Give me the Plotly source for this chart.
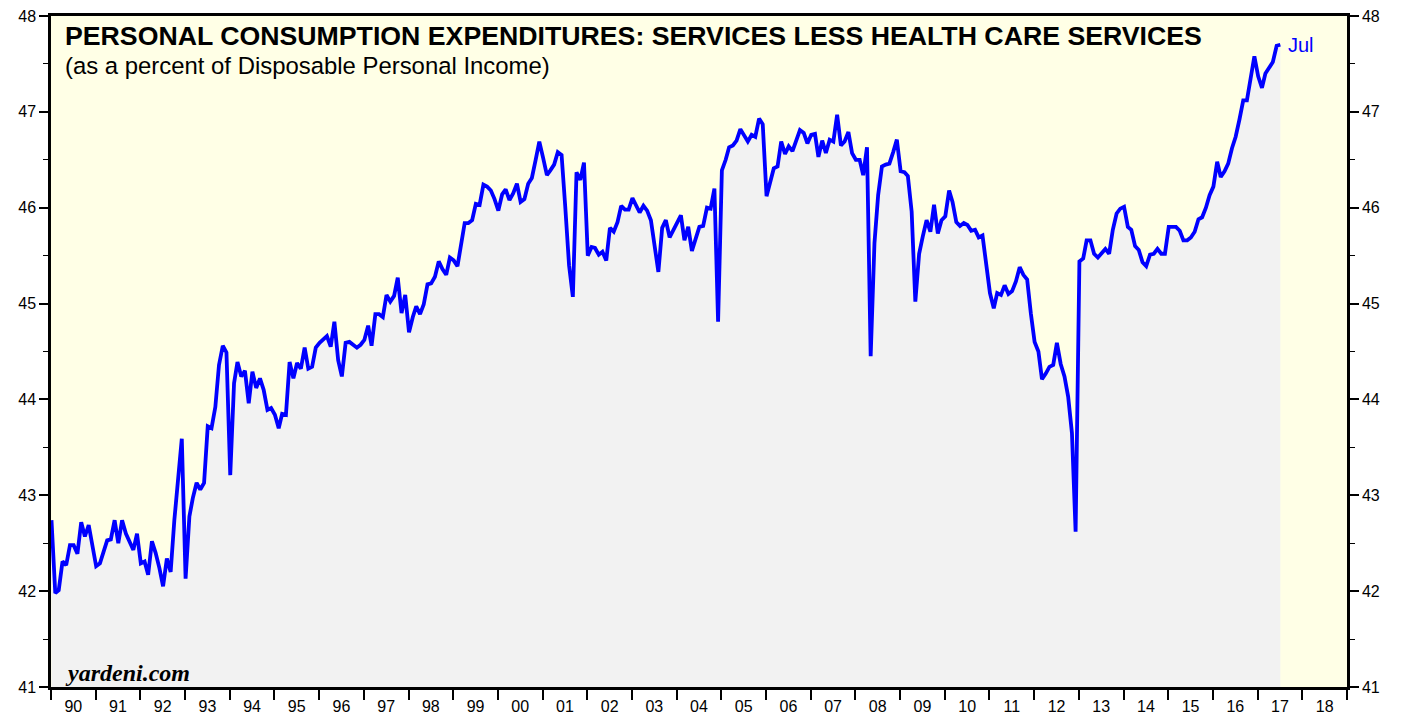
import pandas as pd
import plotly.graph_objects as go

# monthly, Jan 1990 - Jul 2017, percent of disposable personal income
pce_1990s = [
    42.74, 41.98, 42.01, 42.31, 42.27, 42.48, 42.48, 42.39, 42.72, 42.57, 42.69, 42.46,
    42.26, 42.29, 42.41, 42.53, 42.54, 42.74, 42.50, 42.74, 42.60, 42.52, 42.43, 42.60,
    42.29, 42.31, 42.17, 42.52, 42.40, 42.24, 42.05, 42.34, 42.20, 42.74, 43.19, 43.59,
    42.13, 42.78, 42.97, 43.13, 43.06, 43.13, 43.72, 43.70, 43.92, 44.36, 44.56, 44.49,
    43.21, 44.17, 44.39, 44.24, 44.30, 43.96, 44.29, 44.12, 44.22, 44.10, 43.89, 43.91,
    43.84, 43.70, 43.85, 43.84, 44.39, 44.22, 44.38, 44.32, 44.54, 44.32, 44.34, 44.54,
    44.59, 44.63, 44.66, 44.55, 44.81, 44.41, 44.24, 44.59, 44.60, 44.57, 44.54, 44.57,
    44.62, 44.77, 44.56, 44.89, 44.89, 44.86, 45.09, 45.02, 45.08, 45.27, 44.90, 45.09,
    44.70, 44.86, 44.97, 44.89, 44.99, 45.20, 45.21, 45.28, 45.44, 45.36, 45.30, 45.48,
    45.45, 45.39, 45.63, 45.84, 45.84, 45.87, 46.04, 46.03, 46.24, 46.22, 46.18, 46.09,
]
pce_2000s = [
    45.97, 46.14, 46.19, 46.08, 46.15, 46.25, 46.06, 46.09, 46.25, 46.31, 46.50, 46.69,
    46.52, 46.34, 46.39, 46.45, 46.58, 46.55, 46.01, 45.40, 45.07, 46.37, 46.29, 46.47,
    45.50, 45.59, 45.58, 45.51, 45.54, 45.45, 45.79, 45.75, 45.85, 46.02, 45.98, 45.98,
    46.10, 46.03, 45.95, 46.02, 45.97, 45.87, 45.59, 45.33, 45.79, 45.87, 45.69, 45.77,
    45.85, 45.92, 45.66, 45.80, 45.55, 45.67, 45.80, 45.81, 46.00, 45.99, 46.20, 44.81,
    46.39, 46.50, 46.63, 46.65, 46.70, 46.82, 46.75, 46.69, 46.76, 46.74, 46.93, 46.87,
    46.12, 46.27, 46.41, 46.43, 46.69, 46.56, 46.64, 46.59, 46.69, 46.81, 46.78, 46.67,
    46.76, 46.77, 46.53, 46.70, 46.57, 46.71, 46.69, 46.97, 46.65, 46.69, 46.79, 46.57,
    46.50, 46.50, 46.34, 46.63, 44.45, 45.63, 46.13, 46.43, 46.45, 46.46, 46.58, 46.71,
    46.38, 46.37, 46.33, 45.96, 45.02, 45.52, 45.70, 45.87, 45.75, 46.03, 45.73, 45.87,
]
pce_2010s = [
    45.91, 46.18, 46.06, 45.85, 45.81, 45.84, 45.82, 45.76, 45.77, 45.69, 45.71, 45.38,
    45.11, 44.95, 45.11, 45.09, 45.19, 45.10, 45.13, 45.23, 45.38, 45.30, 45.25, 44.90,
    44.60, 44.50, 44.21, 44.27, 44.34, 44.36, 44.59, 44.37, 44.24, 44.03, 43.65, 42.62,
    45.44, 45.47, 45.66, 45.66, 45.52, 45.48, 45.52, 45.57, 45.52, 45.77, 45.94, 45.99,
    46.01, 45.80, 45.77, 45.60, 45.56, 45.43, 45.39, 45.51, 45.52, 45.57, 45.52, 45.52,
    45.80, 45.80, 45.80, 45.76, 45.66, 45.66, 45.69, 45.75, 45.88, 45.90, 46.00, 46.13,
    46.22, 46.48, 46.32, 46.38, 46.46, 46.62, 46.74, 46.92, 47.12, 47.12, 47.37, 47.58,
    47.37, 47.25, 47.40, 47.47, 47.52, 47.69, 47.70,
]
values = pce_1990s + pce_2000s + pce_2010s
dates = pd.date_range("1990-01-01", periods=len(values), freq="MS") + pd.Timedelta(days=4)

title = "PERSONAL CONSUMPTION EXPENDITURES: SERVICES LESS HEALTH CARE SERVICES"
subtitle = "(as a percent of Disposable Personal Income)"
last_label = "Jul"

fig = go.Figure()
fig.add_trace(go.Scatter(
    x=dates, y=values, mode="lines",
    line=dict(color="#0000ff", width=3.8),
    fill="tozeroy", fillcolor="#f2f2f2",
    hoverinfo="x+y", showlegend=False,
))
# empty trace so the right-hand axis gets drawn
fig.add_trace(go.Scatter(x=[dates[0]], y=[values[0]], yaxis="y2", mode="lines",
                         line=dict(width=0), showlegend=False, hoverinfo="skip"))

tick_font = dict(family="Liberation Sans", size=16, color="black")
yaxis_style = dict(
    range=[41, 48], dtick=1, ticks="outside", ticklen=9, tickwidth=1.5,
    tickcolor="black", showgrid=False, zeroline=False, automargin=False,
    showline=True, linecolor="black", linewidth=2.5, tickfont=tick_font,
    minor=dict(ticks="outside", dtick=0.5, ticklen=5, tickwidth=1, tickcolor="black"),
)

fig.update_layout(
    width=1407, height=719,
    margin=dict(l=51, r=60, t=16, b=32),
    paper_bgcolor="white",
    plot_bgcolor="#ffffe6",
    xaxis=dict(
        type="date", range=["1990-01-01", "2019-01-01"],
        dtick="M12", tick0="1990-01-01", tickformat="%y", ticklabelmode="period",
        ticks="outside", ticklen=10, tickwidth=1.5, tickcolor="black", automargin=False,
        ticklabelstandoff=-7,
        showgrid=False, showline=True, linecolor="black", linewidth=2.5, mirror=True,
        tickfont=tick_font,
    ),
    yaxis=yaxis_style,
    yaxis2=dict(yaxis_style, overlaying="y", side="right"),
    annotations=[
        dict(text=f"<b>{title}</b>", xref="paper", yref="paper", x=0.0095, y=0.970,
             xanchor="left", yanchor="middle", showarrow=False,
             font=dict(family="Liberation Sans", size=26.7, color="black")),
        dict(text=subtitle, xref="paper", yref="paper", x=0.0095, y=0.926,
             xanchor="left", yanchor="middle", showarrow=False,
             font=dict(family="Liberation Sans", size=23.9, color="black")),
        dict(text="<b><i>yardeni.com</i></b>", xref="paper", yref="paper", x=0.0095, y=0.021,
             xanchor="left", yanchor="middle", showarrow=False,
             font=dict(family="Liberation Serif", size=24, color="black")),
        dict(text=last_label, x=dates[-1], y=values[-1], xanchor="left", yanchor="middle",
             xshift=6, showarrow=False,
             font=dict(family="Liberation Sans", size=20, color="#0000ff")),
    ],
)

# the default page has an 8px body margin; drop it so the chart sits at 0,0
fig.write_html("out.html", config={"displayModeBar": False},
               post_script="document.body.style.margin='0px';")
